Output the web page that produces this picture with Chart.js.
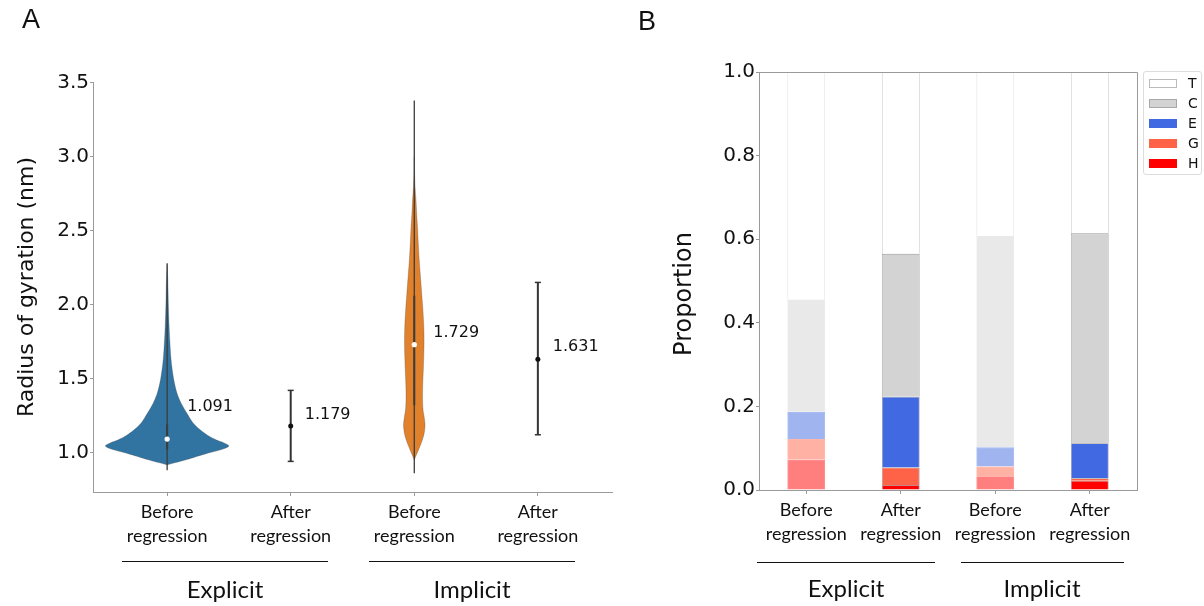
<!DOCTYPE html>
<html>
<head>
<meta charset="utf-8">
<script src="https://cdn.jsdelivr.net/npm/chart.js@4.4.0/dist/chart.umd.min.js"></script>
<style>
  body { margin: 0; width: 1204px; height: 606px; position: relative; background: #fff; overflow: hidden; }
  canvas { position: absolute; top: 0; }
  #chartA { left: 0; }
  #chartB { left: 640px; }
  .panel { position: absolute; font-family: "Liberation Sans", sans-serif; font-size: 27px; color: #111; line-height: 1; }
  .gline { position: absolute; height: 0; border-top: 1.6px solid #111; }
  .glabel { position: absolute; font-family: Lato, sans-serif; font-size: 24px; color: #111; transform: translate(-50%, -50%); white-space: nowrap; }
  #legend { position: absolute; left: 1143px; top: 71px; width: 59px; height: 104px; border: 1px solid #dcdcdc; border-radius: 3px; box-sizing: border-box; }
  #legend .row { position: absolute; left: 5px; height: 10px; }
  #legend .patch { position: absolute; left: 0; top: 0; width: 28px; height: 9px; box-sizing: border-box; }
  #legend .txt { position: absolute; left: 39px; top: -4px; font-family: "DejaVu Sans", sans-serif; font-size: 14px; color: #111; }
</style>
</head>
<body>
<canvas id="chartA" width="640" height="606"></canvas>
<canvas id="chartB" width="564" height="606"></canvas>
<div class="panel" style="left:22px;top:6px">A</div>
<div class="panel" style="left:638px;top:8px">B</div>

<div class="gline" style="left:122px;top:561px;width:206px"></div>
<div class="gline" style="left:369px;top:561px;width:206px"></div>
<div class="glabel" style="left:225px;top:588px">Explicit</div>
<div class="glabel" style="left:472px;top:588px">Implicit</div>

<div class="gline" style="left:757px;top:562px;width:178px"></div>
<div class="gline" style="left:961px;top:562px;width:163px"></div>
<div class="glabel" style="left:846px;top:587px">Explicit</div>
<div class="glabel" style="left:1042px;top:587px">Implicit</div>

<div id="legend"></div>

<script>
// shared categories
const groups = ['Explicit', 'Implicit'];
const conditions = [['Before', 'regression'], ['After', 'regression'], ['Before', 'regression'], ['After', 'regression']];

// panel A: radius of gyration
const gyrTicks = [1.0, 1.5, 2.0, 2.5, 3.0, 3.5];
const medians = [1.091, 1.179, 1.729, 1.631];

// explicit, before regression (violin): levels and half widths
const v1Y = [0.916, 0.93, 0.949, 0.965, 0.983, 1.0, 1.02, 1.044, 1.065, 1.084, 1.115, 1.152, 1.2, 1.265, 1.33, 1.40, 1.5, 1.625, 1.75, 1.85, 2.0, 2.15, 2.27];
const v1W = [0, 0.06, 0.145, 0.21, 0.28, 0.35, 0.44, 0.50, 0.46, 0.40, 0.33, 0.27, 0.21, 0.16, 0.115, 0.08, 0.052, 0.032, 0.022, 0.016, 0.01, 0.006, 0];
const v1Range = [0.88, 2.28];
const v1Box = [1.02, 1.19];

// implicit, before regression (violin)
const v2Y = [0.949, 0.98, 1.017, 1.05, 1.084, 1.13, 1.186, 1.24, 1.287, 1.355, 1.45, 1.58, 1.74, 1.85, 1.96, 2.076, 2.2, 2.3, 2.42, 2.526, 2.62, 2.706, 2.8, 2.9, 3.0];
const v2W = [0, 0.015, 0.034, 0.05, 0.065, 0.08, 0.087, 0.08, 0.071, 0.067, 0.068, 0.074, 0.079, 0.077, 0.07, 0.06, 0.049, 0.04, 0.032, 0.026, 0.019, 0.014, 0.006, 0.002, 0];
const v2Range = [0.86, 3.38];
const v2Box = [1.32, 2.06];

// after regression (error bars), explicit then implicit
const errLow = [0.94, 1.12];
const errHigh = [1.42, 2.15];

// panel B: secondary structure proportions
const ssNames = ['T', 'C', 'E', 'G', 'H'];
const propT = [0.544, 0.435, 0.392, 0.386];
const propC = [0.269, 0.342, 0.506, 0.502];
const propE = [0.065, 0.169, 0.046, 0.084];
const propG = [0.049, 0.042, 0.023, 0.006];
const propH = [0.073, 0.012, 0.033, 0.022];

const ssColors = { T: [255, 255, 255], C: [211, 211, 211], E: [65, 105, 225], G: [255, 99, 71], H: [255, 0, 0] };

const tickFont = { family: 'DejaVu Sans', size: 20 };
const catFont = { family: 'Lato', size: 18, lineHeight: 1.35 };
const axisGray = '#9a9a9a';

function violinOutline(c, ys, ws) {
  const pts = [];
  for (let i = 0; i < ys.length; i++) pts.push({ x: c + ws[i], y: ys[i] });
  for (let i = ys.length - 1; i >= 0; i--) pts.push({ x: c - ws[i], y: ys[i] });
  return pts;
}

const violins = [
  { cat: 0, ys: v1Y, ws: v1W, range: v1Range, box: v1Box, color: '#3274a1' },
  { cat: 2, ys: v2Y, ws: v2W, range: v2Range, box: v2Box, color: '#e1812c' }
];

const datasetsA = [];
violins.forEach(v => {
  datasetsA.push({
    data: violinOutline(v.cat, v.ys, v.ws), showLine: true, fill: 'shape',
    backgroundColor: v.color, borderColor: 'rgba(60,60,60,0.45)', borderWidth: 0.6,
    pointRadius: 0, tension: 0.3, order: 4
  });
  datasetsA.push({
    data: v.range.map(y => ({ x: v.cat, y })), showLine: true,
    borderColor: '#3c3c3c', borderWidth: 1.3, pointRadius: 0, order: 3
  });
  datasetsA.push({
    data: v.box.map(y => ({ x: v.cat, y })), showLine: true,
    borderColor: '#3c3c3c', borderWidth: 2, pointRadius: 0, order: 2
  });
  datasetsA.push({
    data: [{ x: v.cat, y: medians[v.cat] }], showLine: false,
    pointRadius: 2.6, pointBackgroundColor: '#fff', pointBorderWidth: 0, order: 1
  });
});
[1, 3].forEach((cat, i) => {
  datasetsA.push({
    data: [{ x: cat, y: errLow[i] }, { x: cat, y: medians[cat] }, { x: cat, y: errHigh[i] }],
    showLine: true, borderColor: '#333', borderWidth: 2,
    pointStyle: ['line', 'circle', 'line'], pointRadius: [3, 2.5, 3],
    pointBackgroundColor: '#111', pointBorderColor: '#333', pointBorderWidth: [1.5, 0, 1.5], order: 1
  });
});

// pixel shift of each median label from its point
const labelShift = [[20, -32], [14, -11], [19, -12], [15, -12]];
const medianLabels = {
  id: 'medianLabels',
  afterDatasetsDraw(chart) {
    const { ctx, scales: { x, y } } = chart;
    ctx.save();
    ctx.font = '16px "DejaVu Sans"';
    ctx.fillStyle = '#111';
    ctx.textBaseline = 'middle';
    medians.forEach((m, i) => {
      ctx.fillText(m.toFixed(3), x.getPixelForValue(i) + labelShift[i][0], y.getPixelForValue(m) + labelShift[i][1]);
    });
    ctx.restore();
  }
};

new Chart(document.getElementById('chartA'), {
  type: 'scatter',
  data: { datasets: datasetsA },
  options: {
    responsive: false, animation: false, events: [],
    layout: { padding: { top: 82, right: 28 } },
    plugins: { legend: { display: false }, tooltip: { enabled: false } },
    scales: {
      x: {
        type: 'linear', min: -0.6, max: 3.6,
        afterBuildTicks: s => { s.ticks = conditions.map((_, i) => ({ value: i })); },
        afterFit: s => { s.height = 114; },
        ticks: { callback: v => conditions[v], font: catFont, color: '#111', padding: 4, maxRotation: 0, autoSkip: false },
        grid: { drawOnChartArea: false, tickLength: 4, color: axisGray },
        border: { color: axisGray }
      },
      y: {
        min: 0.733, max: 3.505,
        afterBuildTicks: s => { s.ticks = gyrTicks.map(v => ({ value: v })); },
        afterFit: s => { s.width = 93; },
        ticks: { callback: v => v.toFixed(1), font: tickFont, color: '#111', padding: 1 },
        grid: { drawOnChartArea: false, tickLength: 3, color: axisGray },
        border: { color: axisGray },
        title: { display: true, text: 'Radius of gyration (nm)', font: { family: 'DejaVu Sans', size: 22 }, color: '#111', padding: { top: 14 } }
      }
    }
  },
  plugins: [medianLabels]
});

// panel B
const isBefore = conditions.map(c => c[0] === 'Before');
function rgba(rgb, a) { return `rgba(${rgb[0]},${rgb[1]},${rgb[2]},${a})`; }
const propBySS = { T: propT, C: propC, E: propE, G: propG, H: propH };

const datasetsB = ['H', 'G', 'E', 'C', 'T'].map(name => ({
  label: name,
  data: propBySS[name],
  backgroundColor: isBefore.map(b => rgba(ssColors[name], b ? 0.5 : 1)),
  borderColor: isBefore.map(b => name === 'T' ? (b ? '#e0e0e0' : '#b8b8b8') : (b ? rgba(ssColors[name], 0.5) : 'rgba(70,70,70,0.55)')),
  borderWidth: 0.8,
  barPercentage: 0.4,
  categoryPercentage: 1
}));

// top/right spines and the y title, placed a little below the axis centre as in the source
const frameBox = {
  id: 'frameBox',
  afterDraw(chart) {
    const { ctx, chartArea: a } = chart;
    ctx.save();
    ctx.strokeStyle = axisGray;
    ctx.lineWidth = 1;
    ctx.beginPath();
    ctx.moveTo(a.left, a.top + 0.5);
    ctx.lineTo(a.right + 0.5, a.top + 0.5);
    ctx.lineTo(a.right + 0.5, a.bottom);
    ctx.stroke();
    ctx.translate(45, (a.top + a.bottom) / 2 + 13);
    ctx.rotate(-Math.PI / 2);
    ctx.font = '24px "DejaVu Sans"';
    ctx.fillStyle = '#111';
    ctx.textAlign = 'center';
    ctx.textBaseline = 'middle';
    ctx.fillText('Proportion', 0, 0);
    ctx.restore();
  }
};

new Chart(document.getElementById('chartB'), {
  type: 'bar',
  data: { labels: conditions, datasets: datasetsB },
  options: {
    responsive: false, animation: false, events: [],
    layout: { padding: { top: 72, right: 67 } },
    plugins: { legend: { display: false }, tooltip: { enabled: false } },
    scales: {
      x: {
        stacked: true,
        afterFit: s => { s.height = 116; },
        ticks: { font: catFont, color: '#111', padding: 4, maxRotation: 0, autoSkip: false },
        grid: { drawOnChartArea: false, tickLength: 4, color: axisGray, offset: false },
        border: { color: axisGray }
      },
      y: {
        stacked: true, min: 0, max: 1,
        afterFit: s => { s.width = 119; },
        ticks: { stepSize: 0.2, callback: v => v.toFixed(1), font: tickFont, color: '#111', padding: 1 },
        grid: { drawOnChartArea: false, tickLength: 3, color: axisGray },
        border: { color: axisGray }
      }
    }
  },
  plugins: [frameBox]
});

// legend for panel B
const legend = document.getElementById('legend');
ssNames.forEach((name, i) => {
  const row = document.createElement('div');
  row.className = 'row';
  row.style.top = (7 + 20 * i) + 'px';
  const patch = document.createElement('div');
  patch.className = 'patch';
  patch.style.background = rgba(ssColors[name], 1);
  patch.style.border = '1px solid ' + (name === 'T' ? '#bbb' : name === 'C' ? '#a8a8a8' : rgba(ssColors[name], 1));
  const txt = document.createElement('div');
  txt.className = 'txt';
  txt.textContent = name;
  row.appendChild(patch);
  row.appendChild(txt);
  legend.appendChild(row);
});
</script>
</body>
</html>
